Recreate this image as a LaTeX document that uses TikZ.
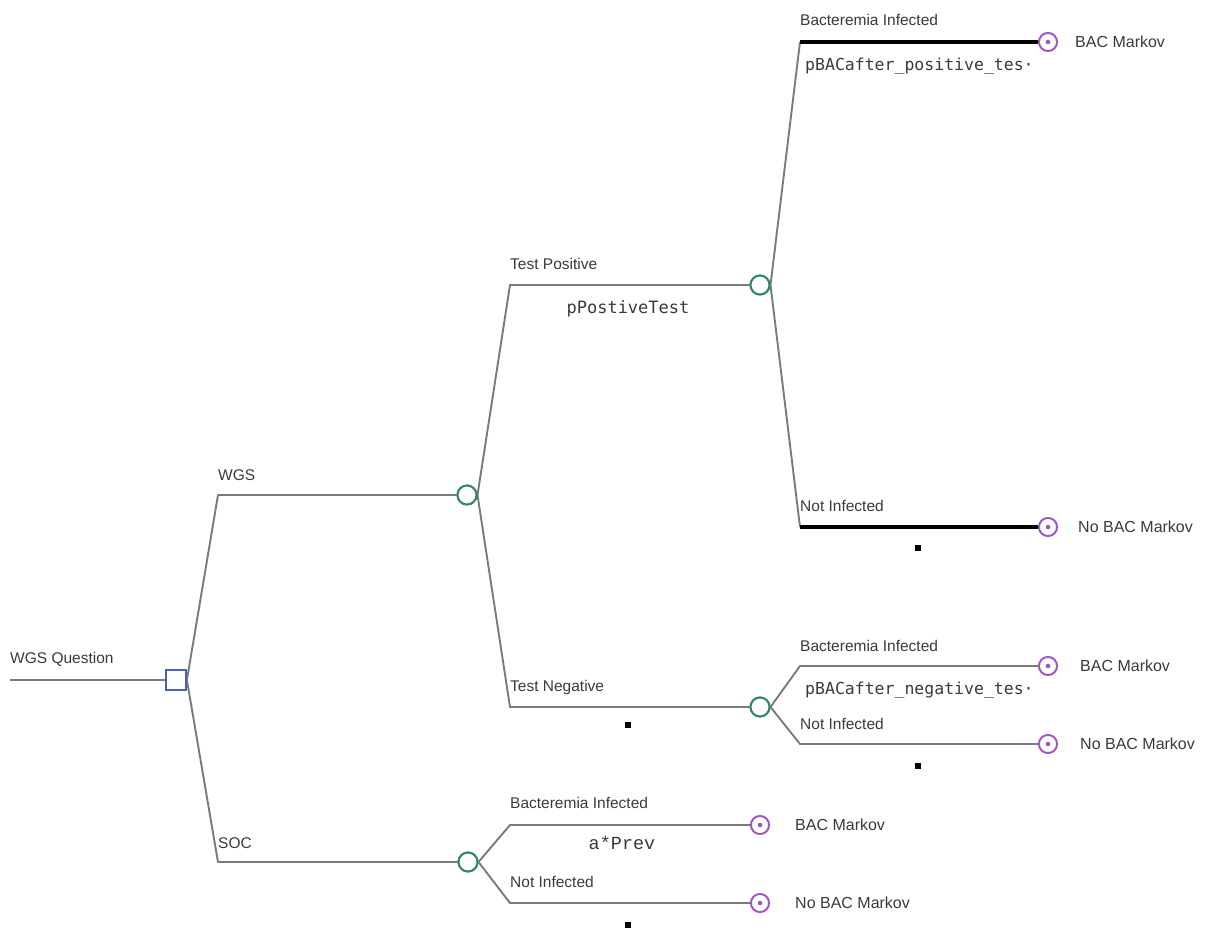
\documentclass[tikz,border=0pt]{standalone}
\usepackage{fontspec}
\setmainfont{Liberation Sans}
\newfontfamily\probfont{DejaVu Sans Mono}
\newfontfamily\courfont{Liberation Mono}
\definecolor{linegray}{HTML}{7A7A7A}
\definecolor{chgreen}{HTML}{2F8A62}
\definecolor{tpurple}{HTML}{A455C4}
\definecolor{sqblue}{HTML}{4F5FB8}
\definecolor{txtgray}{HTML}{3A3A3A}
\begin{document}
\begin{tikzpicture}[x=1pt,y=-1pt,
  br/.style={draw=linegray,line width=1.9pt,line join=round},
  heavy/.style={draw=black,line width=3.2pt},
  chance/.style={circle,draw=chgreen,line width=2pt,minimum size=19pt,inner sep=0pt,fill=white},
  term/.style={circle,draw=tpurple,line width=1.8pt,minimum size=18pt,inner sep=0pt,fill=white},
  decis/.style={rectangle,draw=sqblue,line width=1.8pt,minimum size=20pt,inner sep=0pt,fill=white},
  lbl/.style={font=\fontsize{15.5}{17}\selectfont,text=txtgray,anchor=base west,inner sep=0pt},
  outl/.style={font=\fontsize{16}{18}\selectfont,text=txtgray,anchor=west,inner sep=0pt},
  prob/.style={font=\probfont\fontsize{16.5}{18}\selectfont,text=txtgray,inner sep=0pt},
  dotm/.style={rectangle,fill=black,minimum size=5.5pt,inner sep=0pt}]
\useasboundingbox (0,0) rectangle (1211,930);

% coordinates
\coordinate (start) at (10,680);
\coordinate (cWGS) at (218,495);
\coordinate (cSOC) at (218,862);
\coordinate (cTP) at (510,285);
\coordinate (cTN) at (510,707);
\coordinate (cTPB) at (800,42);
\coordinate (cTPN) at (800,527);
\coordinate (cTNB) at (800,666);
\coordinate (cTNN) at (800,744);
\coordinate (cSB) at (510,825);
\coordinate (cSN) at (510,903);

% nodes
\node[decis] (dq) at (176,680) {};
\node[chance] (nW) at (467,495) {};
\node[chance] (nS) at (468,862) {};
\node[chance] (nTP) at (760,285) {};
\node[chance] (nTN) at (760,707) {};
\node[term] (t1) at (1048,42) {};
\node[term] (t2) at (1048,527) {};
\node[term] (t3) at (1048,666) {};
\node[term] (t4) at (1048,744) {};
\node[term] (t5) at (760,825) {};
\node[term] (t6) at (760,903) {};

% connectors
\draw[br] (start) -- (dq.west);
\draw[br] (dq.east) -- (cWGS) -- (nW.west);
\draw[br] (dq.east) -- (cSOC) -- (nS.west);
\draw[br] (nW.east) -- (cTP) -- (nTP.west);
\draw[br] (nW.east) -- (cTN) -- (nTN.west);
\draw[br] (nTP.east) -- (cTPB);
\draw[heavy] (cTPB) -- (t1.west);
\draw[br] (nTP.east) -- (cTPN);
\draw[heavy] (cTPN) -- (t2.west);
\draw[br] (nTN.east) -- (cTNB) -- (t3.west);
\draw[br] (nTN.east) -- (cTNN) -- (t4.west);
\draw[br] (nS.east) -- (cSB) -- (t5.west);
\draw[br] (nS.east) -- (cSN) -- (t6.west);

% redraw nodes on top
\node[decis] at (dq) {};
\foreach \n in {nW,nS,nTP,nTN} \node[chance] at (\n) {};
\foreach \n in {t1,t2,t3,t4,t5,t6} {
  \node[term] at (\n) {};
  \fill[tpurple] (\n.center) circle (2.3pt);
}

% branch labels
\node[lbl] (lq) at (10,663) {WGS Question};
\node[lbl] (lw) at (218,480) {WGS};
\node[lbl] (ls) at (218,848) {SOC};
\node[lbl] (ltp) at (510,269) {Test Positive};
\node[lbl] (ltn) at (510,691) {Test Negative};
\node[lbl] (lb1) at (800,25) {Bacteremia Infected};
\node[lbl] (ln1) at (800,511) {Not Infected};
\node[lbl] (lb2) at (800,651) {Bacteremia Infected};
\node[lbl] (ln2) at (800,729) {Not Infected};
\node[lbl] (lb3) at (510,808) {Bacteremia Infected};
\node[lbl] (ln3) at (510,887) {Not Infected};

% probabilities
\node[prob,anchor=west] (p1) at (805,66) {pBACafter\_positive\_tes\textperiodcentered};
\node[prob,font=\probfont\fontsize{17}{19}\selectfont] (p2) at (628,309) {pPostiveTest};
\node[prob,anchor=west] (p3) at (805,690) {pBACafter\_negative\_tes\textperiodcentered};
\node[prob,font=\courfont\fontsize{18.5}{20}\selectfont] (p4) at (622,843) {a*Prev};
\node[dotm] (d1) at (918,548) {};
\node[dotm] (d2) at (628,725) {};
\node[dotm] (d3) at (918,766) {};
\node[dotm] (d4) at (628,925) {};

% outcome labels
\node[outl] (o1) at (1075,42) {BAC Markov};
\node[outl] (o2) at (1078,527) {No BAC Markov};
\node[outl] (o3) at (1080,666) {BAC Markov};
\node[outl] (o4) at (1080,744) {No BAC Markov};
\node[outl] (o5) at (795,825) {BAC Markov};
\node[outl] (o6) at (795,903) {No BAC Markov};
\end{tikzpicture}
\end{document}
